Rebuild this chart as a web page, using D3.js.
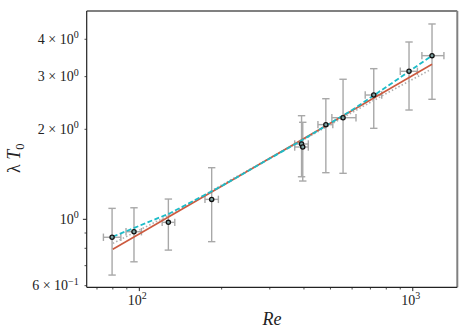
<!DOCTYPE html>
<html>
<head>
<meta charset="utf-8">
<script src="https://cdn.jsdelivr.net/npm/d3@7"></script>
<style>
  body { margin: 0; background: #fff; }
  svg { display: block; }
  text { font-family: "Liberation Serif", "DejaVu Serif", serif; fill: #222; }
</style>
</head>
<body>
<svg id="chart" width="469" height="336"></svg>
<script>
// measured points
var re      = [79.5, 95.6, 127.7, 183.9, 392, 396, 481, 556, 720, 969, 1176];
var lamT    = [0.871, 0.909, 0.977, 1.166, 1.786, 1.745, 2.073, 2.187, 2.604, 3.126, 3.526];
var yLow    = [0.651, 0.721, 0.789, 0.842, 1.388, 1.343, 1.432, 1.425, 2.015, 2.32, 2.52];
var yHigh   = [1.088, 1.093, 1.169, 1.488, 2.221, 2.111, 2.531, 2.94, 3.19, 3.917, 4.5];
var reLow   = [73.9, 89.4, 121.2, 173.8, 370, 370, 450, 506, 670, 900, 1080];
var reHigh  = [85.6, 101.8, 134.8, 194.6, 415, 415, 510, 620, 770, 1040, 1300];

// fit curves
var fitRe     = [80, 1176];
var fitRed    = [0.794, 3.30];
var dashRe    = [80, 130, 200, 300, 400, 600, 800, 969, 1176];
var dashCyan  = [0.875, 1.050, 1.292, 1.597, 1.856, 2.320, 2.770, 3.121, 3.526];
var dotRe     = [80, 130, 200, 300, 400, 600, 800, 1154];
var dotGray   = [0.831, 1.038, 1.302, 1.603, 1.849, 2.276, 2.634, 3.157];

var yTicks = [0.6, 1, 2, 3, 4];
var yTickLabels = [["6 × 10", "−1"], ["10", "0"], ["2 × 10", "0"], ["3 × 10", "0"], ["4 × 10", "0"]];
var yMinor = [0.7, 0.8, 0.9];
var xTicks = [100, 1000];
var xTickLabels = [["10", "2"], ["10", "3"]];
var xMinor = [70, 80, 90, 200, 300, 400, 500, 600, 700, 800, 900];

var svg = d3.select("#chart"),
    margin = {top: 11, right: 11.7, bottom: 48.7, left: 86.7},
    width = +svg.attr("width") - margin.left - margin.right,
    height = +svg.attr("height") - margin.top - margin.bottom;

var x = d3.scaleLog().domain([64.2, 1455]).range([0, width]),
    y = d3.scaleLog().domain([0.5925, 4.973]).range([height, 0]);

var g = svg.append("g")
    .attr("transform", "translate(" + margin.left + "," + margin.top + ")");

// error bars
var errColor = "#a8a8a8";
var eb = g.append("g").attr("stroke", errColor).attr("stroke-width", 1.4).attr("fill", "none");
re.forEach(function(d, i) {
  var cx = x(d), cy = y(lamT[i]), cap = 3.7;
  eb.append("line").attr("x1", cx).attr("x2", cx).attr("y1", y(yLow[i])).attr("y2", y(yHigh[i]));
  eb.append("line").attr("x1", cx - cap).attr("x2", cx + cap).attr("y1", y(yLow[i])).attr("y2", y(yLow[i]));
  eb.append("line").attr("x1", cx - cap).attr("x2", cx + cap).attr("y1", y(yHigh[i])).attr("y2", y(yHigh[i]));
  eb.append("line").attr("x1", x(reLow[i])).attr("x2", x(reHigh[i])).attr("y1", cy).attr("y2", cy);
  eb.append("line").attr("x1", x(reLow[i])).attr("x2", x(reLow[i])).attr("y1", cy - cap).attr("y2", cy + cap);
  eb.append("line").attr("x1", x(reHigh[i])).attr("x2", x(reHigh[i])).attr("y1", cy - cap).attr("y2", cy + cap);
});

var line = d3.line()
    .x(function(d) { return x(d[0]); })
    .y(function(d) { return y(d[1]); });

g.append("path")
    .datum(d3.zip(dotRe, dotGray))
    .attr("fill", "none").attr("stroke", "#b0b0b0").attr("stroke-width", 1.6)
    .attr("stroke-dasharray", "1.5,2.2")
    .attr("d", line);

g.append("path")
    .datum(d3.zip(fitRe, fitRed))
    .attr("fill", "none").attr("stroke", "#cc5a3f").attr("stroke-width", 1.6)
    .attr("d", line);

g.append("path")
    .datum(d3.zip(dashRe, dashCyan))
    .attr("fill", "none").attr("stroke", "#1cbcc8").attr("stroke-width", 1.8)
    .attr("stroke-dasharray", "5,2.5")
    .attr("d", line);

// points
g.append("g").selectAll("circle")
    .data(d3.zip(re, lamT))
  .enter().append("circle")
    .attr("cx", function(d) { return x(d[0]); })
    .attr("cy", function(d) { return y(d[1]); })
    .attr("r", 2.1)
    .attr("fill", "#7fa3a3")
    .attr("stroke", "#111")
    .attr("stroke-width", 1.3);

// frame
g.append("line").attr("x1", 0).attr("x2", width).attr("y1", 0).attr("y2", 0)
    .attr("stroke", "#808080").attr("stroke-width", 2);
g.append("line").attr("x1", width).attr("x2", width).attr("y1", 0).attr("y2", height)
    .attr("stroke", "#808080").attr("stroke-width", 2);

// axes
var xAxis = g.append("g").attr("transform", "translate(0," + height + ")");
xAxis.append("line").attr("x1", 0).attr("x2", width).attr("stroke", "#222").attr("stroke-width", 1.2);
xMinor.forEach(function(t) {
  xAxis.append("line").attr("x1", x(t)).attr("x2", x(t)).attr("y1", 0).attr("y2", 2.2)
      .attr("stroke", "#222").attr("stroke-width", 0.8);
});
xTicks.forEach(function(t, i) {
  xAxis.append("line").attr("x1", x(t)).attr("x2", x(t)).attr("y1", 0).attr("y2", 3.8)
      .attr("stroke", "#222").attr("stroke-width", 1);
  var tx = xAxis.append("text").attr("x", x(t) - 2).attr("y", 17.5)
      .attr("text-anchor", "middle").attr("font-size", 14);
  tx.append("tspan").text(xTickLabels[i][0]);
  tx.append("tspan").attr("dy", -5.5).attr("font-size", 10).text(xTickLabels[i][1]);
});

var yAxis = g.append("g");
yAxis.append("line").attr("y1", 0).attr("y2", height).attr("stroke", "#222").attr("stroke-width", 1.2);
yMinor.concat([0.6, 2, 3, 4]).forEach(function(t) {
  yAxis.append("line").attr("y1", y(t)).attr("y2", y(t)).attr("x1", 0).attr("x2", -2.2)
      .attr("stroke", "#222").attr("stroke-width", 0.8);
});
yAxis.append("line").attr("y1", y(1)).attr("y2", y(1)).attr("x1", 0).attr("x2", -3.8)
    .attr("stroke", "#222").attr("stroke-width", 1);
yTicks.forEach(function(t, i) {
  var ty = yAxis.append("text").attr("x", -8).attr("y", y(t) + 4.5)
      .attr("text-anchor", "end").attr("font-size", 14);
  ty.append("tspan").text(yTickLabels[i][0]);
  ty.append("tspan").attr("dy", -5.5).attr("font-size", 10).text(yTickLabels[i][1]);
});

// labels
g.append("text")
    .attr("x", width / 2).attr("y", height + 38)
    .attr("text-anchor", "middle").attr("font-size", 18).attr("font-style", "italic")
    .text("Re");

var yl = svg.append("text")
    .attr("transform", "translate(20," + (margin.top + y(1.6)) + ") rotate(-90)")
    .attr("text-anchor", "middle").attr("font-size", 18);
yl.append("tspan").text("λ ");
yl.append("tspan").attr("font-style", "italic").text("T");
yl.append("tspan").attr("dy", 4).attr("font-size", 12.5).text("0");
</script>
</body>
</html>
